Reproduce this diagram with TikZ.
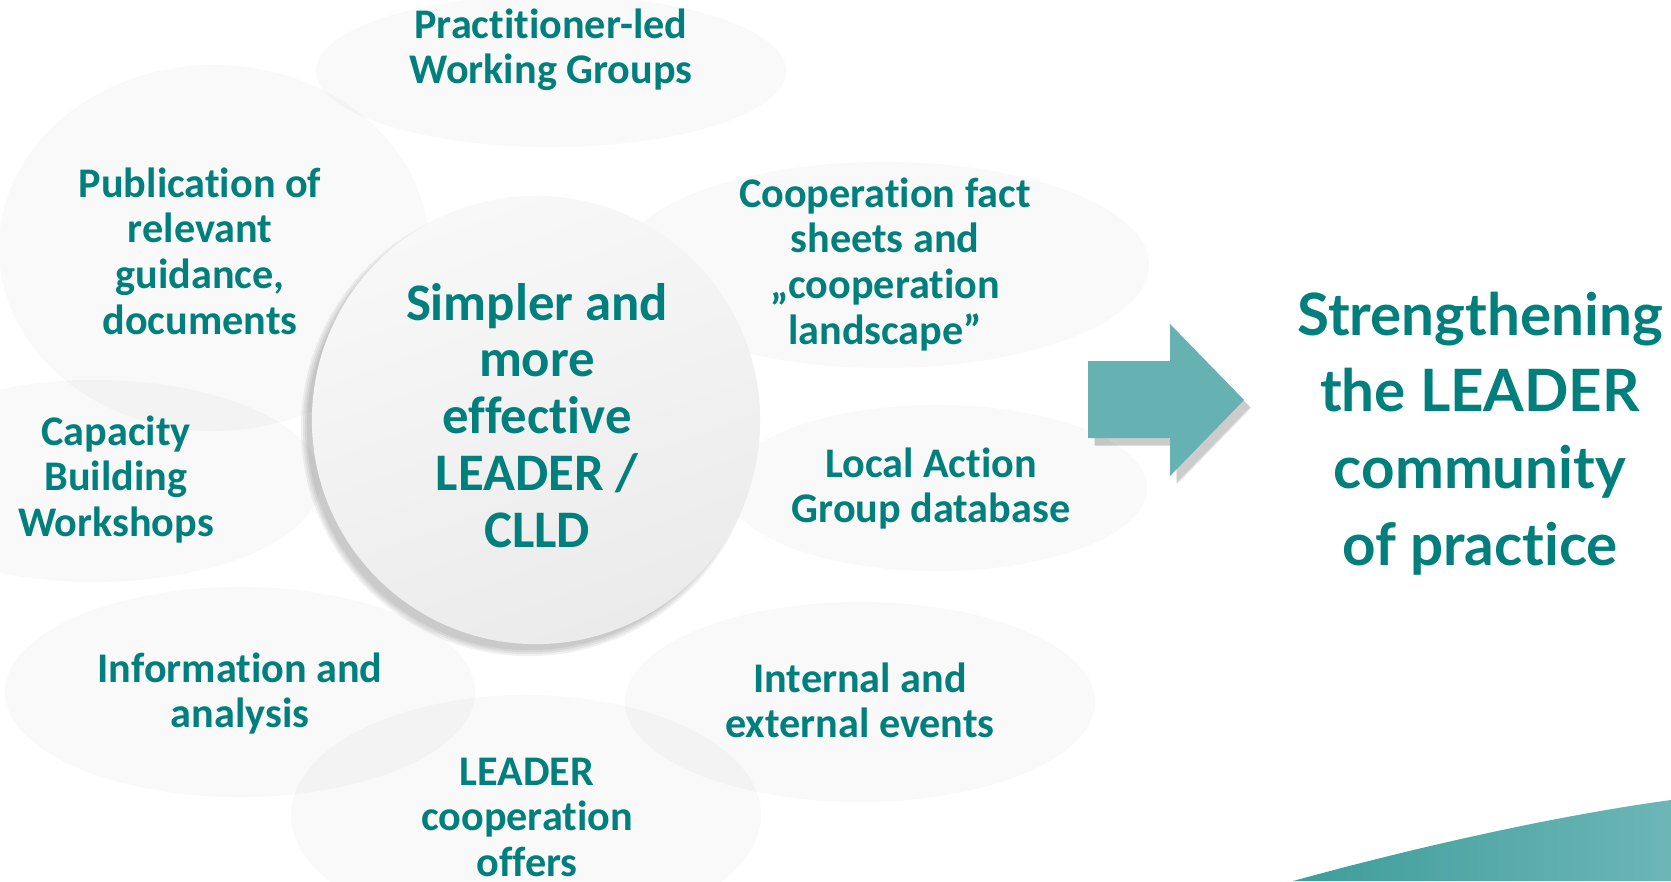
\documentclass[tikz,border=0pt]{standalone}
\usepackage{fontspec}
\setmainfont{Carlito}[RawFeature={-liga;-clig;-rlig;-calt;-dlig}]
\newfontfamily\latofont{Lato}[RawFeature={-liga;-clig;-rlig;-calt;-dlig}]
\definecolor{tealtxt}{HTML}{007F7D}
\definecolor{arrowteal}{HTML}{66B2B3}
\definecolor{swooshL}{HTML}{3E9D99}
\definecolor{swooshR}{HTML}{6CB6B6}
\definecolor{circtop}{HTML}{F8F8F8}
\definecolor{circbot}{HTML}{EBEBEB}
\begin{document}
\begin{tikzpicture}[x=0.01cm,y=-0.01cm,
  bubble/.style={fill=black, fill opacity=0.024},
  sattext/.style={anchor=base, inner sep=0pt, text=tealtxt, font=\fontsize{12}{13}\selectfont\bfseries},
  midtext/.style={anchor=base, inner sep=0pt, text=tealtxt, font=\fontsize{15}{16.2}\selectfont\bfseries},
  bigtext/.style={anchor=base, inner sep=0pt, text=tealtxt, font=\latofont\bfseries\fontsize{16.6}{21.8}\selectfont},
  shadowlayer/.style={fill=black, fill opacity=0.055}]
\useasboundingbox (0,0) rectangle (1671,881);
\fill[white] (0,0) rectangle (1671,881);

% faint bubbles
\fill[bubble] (551,71) ellipse [x radius=2.35cm, y radius=0.76cm];
\fill[bubble] (214,248) ellipse [x radius=2.15cm, y radius=1.83cm];
\fill[bubble] (95,481) ellipse [x radius=2.26cm, y radius=1.01cm];
\fill[bubble] (240,692) ellipse [x radius=2.35cm, y radius=1.05cm];
\fill[bubble] (526,815) ellipse [x radius=2.35cm, y radius=1.2cm];
\fill[bubble] (860,702) ellipse [x radius=2.35cm, y radius=1.0cm];
\fill[bubble] (937,488) ellipse [x radius=2.1cm, y radius=0.83cm];
\fill[bubble] (884,265) ellipse [x radius=2.65cm, y radius=1.03cm];

% central circle with shadow (lower left)
\foreach \d in {4,2,0,-2}{
  \fill[shadowlayer] (529,428) circle [radius=2.24cm+\d*0.01cm];
}
\shade[top color=circtop, bottom color=circbot, shading angle=20] (536,420) circle [radius=2.24cm];

% arrow shadow
\foreach \d in {4,2,0}{
  \fill[shadowlayer, fill opacity=0.07] ([shift={(6+\d*0.3,7+\d*0.3)}]1088,361) -- ++(82,0) -- ++(0,-37) -- ++(74,76) -- ++(-74,76) -- ++(0,-38) -- ++(-82,0) -- cycle;
}
\fill[arrowteal] (1088,361) -- (1170,361) -- (1170,324) -- (1244,400) -- (1170,476) -- (1170,438) -- (1088,438) -- cycle;

% swoosh
\shade[left color=swooshL, right color=swooshR] (1293,881) .. controls (1420,846) and (1560,815) .. (1671,800) -- (1671,881) -- cycle;

% texts
\node[sattext] (prac) at (551,38) {\begin{tabular}[t]{@{}c@{}}Practitioner-led\\Working Groups\end{tabular}};
\node[sattext] (pub) at (200,197) {\begin{tabular}[t]{@{}c@{}}Publication of\\relevant\\guidance,\\documents\end{tabular}};
\node[sattext] (cap) at (116,445) {\begin{tabular}[t]{@{}c@{}}Capacity\\Building\\Workshops\end{tabular}};
\node[sattext] (info) at (240,682) {\begin{tabular}[t]{@{}c@{}}Information and\\analysis\end{tabular}};
\node[sattext] (offers) at (527,785) {\begin{tabular}[t]{@{}c@{}}LEADER\\cooperation\\offers\end{tabular}};
\node[sattext] (events) at (860,692) {\begin{tabular}[t]{@{}c@{}}Internal and\\external events\end{tabular}};
\node[sattext] (lag) at (931,477) {\begin{tabular}[t]{@{}c@{}}Local Action\\Group database\end{tabular}};
\node[sattext] (coop) at (885,207) {\begin{tabular}[t]{@{}c@{}}Cooperation fact\\sheets and\\„cooperation\\landscape”\end{tabular}};
\node[midtext] (center) at (537,320) {\begin{tabular}[t]{@{}c@{}}Simpler and\\more\\effective\\LEADER /\\CLLD\end{tabular}};
\node[bigtext] (result) at (1480,335) {\begin{tabular}[t]{@{}c@{}}Strengthening\\the LEADER\\community\\of practice\end{tabular}};
\end{tikzpicture}
\end{document}
